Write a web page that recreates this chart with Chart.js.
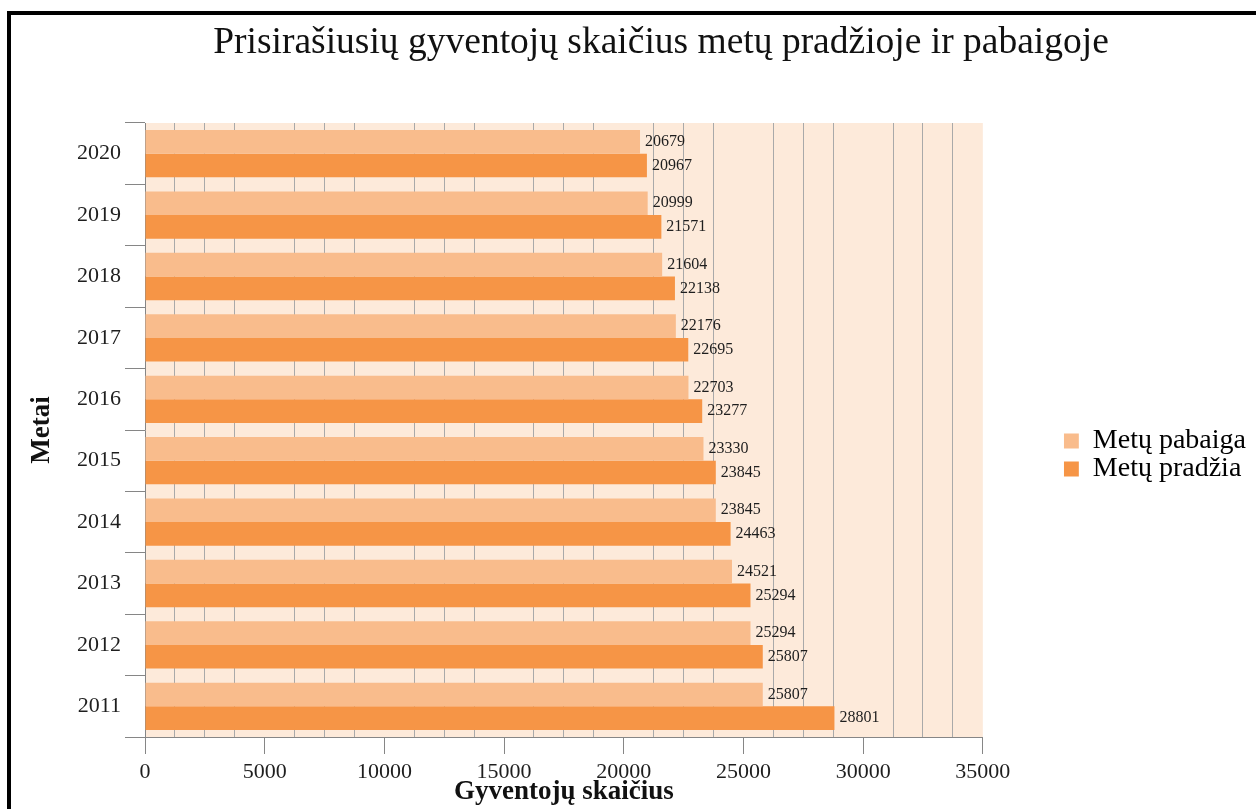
<!DOCTYPE html>
<html>
<head>
<meta charset="utf-8">
<script src="https://cdn.jsdelivr.net/npm/chart.js@4.4.1/dist/chart.umd.min.js"></script>
<style>
  html, body { margin: 0; padding: 0; background: #ffffff; }
  #wrap { position: relative; width: 1256px; height: 809px; overflow: hidden; }
  #c { position: absolute; left: 0; top: 0; }
  #frame { position: absolute; left: 7px; top: 11px; width: 1400px; height: 1000px;
           border-left: 4px solid #000; border-top: 4px solid #000; pointer-events: none; }
</style>
</head>
<body>
<div id="wrap">
  <canvas id="c" width="1256" height="809"></canvas>
  <div id="frame"></div>
</div>
<script>
const years = ['2020', '2019', '2018', '2017', '2016', '2015', '2014', '2013', '2012', '2011'];
const metuPabaiga = [20679, 20999, 21604, 22176, 22703, 23330, 23845, 24521, 25294, 25807];
const metuPradzia = [20967, 21571, 22138, 22695, 23277, 23845, 24463, 25294, 25807, 28801];
const seriesNames = ['Metų pabaiga', 'Metų pradžia'];
const chartTitle = 'Prisirašiusių gyventojų skaičius metų pradžioje ir pabaigoje';
const xTitle = 'Gyventojų skaičius';
const yTitle = 'Metai';

const FONT = "'Liberation Serif', 'Times New Roman', serif";
Chart.defaults.font.family = FONT;

const plotBg = {
  id: 'plotBg',
  beforeDraw(chart) {
    const a = chart.chartArea; const ctx = chart.ctx;
    ctx.save(); ctx.fillStyle = '#fdeada';
    ctx.fillRect(a.left, a.top, a.right - a.left, a.bottom - a.top);
    ctx.restore();
  }
};

const valueLabels = {
  id: 'valueLabels',
  afterDatasetsDraw(chart) {
    const ctx = chart.ctx;
    ctx.save();
    ctx.font = '16px ' + FONT;
    ctx.fillStyle = '#1e1e1e';
    ctx.textAlign = 'left';
    ctx.textBaseline = 'middle';
    chart.data.datasets.forEach((ds, i) => {
      const meta = chart.getDatasetMeta(i);
      meta.data.forEach((el, j) => {
        ctx.fillText(String(ds.data[j]), el.x + 5, el.y);
      });
    });
    ctx.restore();
  }
};

const legendSpacer = {
  id: 'legendSpacer',
  beforeInit(chart) {
    const box = {
      position: 'right', weight: 500, fullSize: false, options: {},
      width: 0, height: 0, left: 0, top: 0, right: 0, bottom: 0,
      isHorizontal() { return false; },
      update(maxWidth, maxHeight) { this.width = 81; this.height = maxHeight; },
      draw() {}
    };
    Chart.layouts.addBox(chart, box);
  }
};

new Chart(document.getElementById('c'), {
  type: 'bar',
  data: {
    labels: years,
    datasets: [
      { label: seriesNames[0], data: metuPabaiga, backgroundColor: '#f9bc8c', borderColor: '#f9bc8c', borderWidth: 0 },
      { label: seriesNames[1], data: metuPradzia, backgroundColor: '#f69546', borderColor: '#f69546', borderWidth: 0 }
    ]
  },
  plugins: [plotBg, valueLabels, legendSpacer],
  options: {
    indexAxis: 'y',
    responsive: false,
    devicePixelRatio: 1,
    animation: false,
    layout: { padding: { left: 66, top: 0, right: 0, bottom: 0 } },
    datasets: { bar: { categoryPercentage: 0.77, barPercentage: 1.0 } },
    plugins: {
      title: {
        display: true, text: chartTitle, color: '#111',
        font: { size: 37.5, weight: 'normal', family: FONT, lineHeight: 1.2 },
        padding: { top: 21, bottom: 57 }
      },
      legend: {
        position: 'right', fullSize: false, align: 'center',
        title: { display: true, text: ' ', font: { size: 10 }, padding: { top: 19, bottom: 19 } },
        labels: { font: { size: 28, family: FONT }, color: '#000', boxWidth: 15, boxHeight: 15, padding: 0 }
      },
      tooltip: { enabled: false }
    },
    scales: {
      x: {
        type: 'linear', min: 0, max: 35000,
        afterFit(s) { s.height = 72; },
        ticks: {
          stepSize: 1250, autoSkip: false, maxRotation: 0, minRotation: 0,
          color: '#1e1e1e', font: { size: 22, family: FONT }, padding: 5,
          callback: (v) => (v % 5000 === 0 ? String(v) : '')
        },
        grid: {
          drawOnChartArea: true, drawTicks: true, tickLength: 17, lineWidth: 1,
          color: (c) => (c.tick && c.tick.value % 5000 !== 0 ? '#a9a9a9' : 'rgba(0,0,0,0)'),
          tickColor: (c) => (c.tick && c.tick.value % 5000 === 0 ? '#868686' : 'rgba(0,0,0,0)')
        },
        border: { display: true, color: '#868686', width: 1 },
        title: {
          display: true, text: xTitle, color: '#111',
          font: { size: 27, weight: 'bold', family: FONT },
          padding: { top: 0, bottom: 1 }
        }
      },
      y: {
        type: 'category',
        afterFit(s) { s.width = 79; },
        ticks: { autoSkip: false, color: '#1e1e1e', font: { size: 22, family: FONT }, padding: 4 },
        grid: { offset: true, drawOnChartArea: false, drawTicks: true, tickLength: 20, tickColor: '#868686', lineWidth: 1 },
        border: { display: true, color: '#868686', width: 1 },
        title: {
          display: true, text: yTitle, color: '#111',
          font: { size: 27, weight: 'bold', family: FONT },
          padding: { top: -40, bottom: 0 }
        }
      }
    }
  }
});
</script>
</body>
</html>
